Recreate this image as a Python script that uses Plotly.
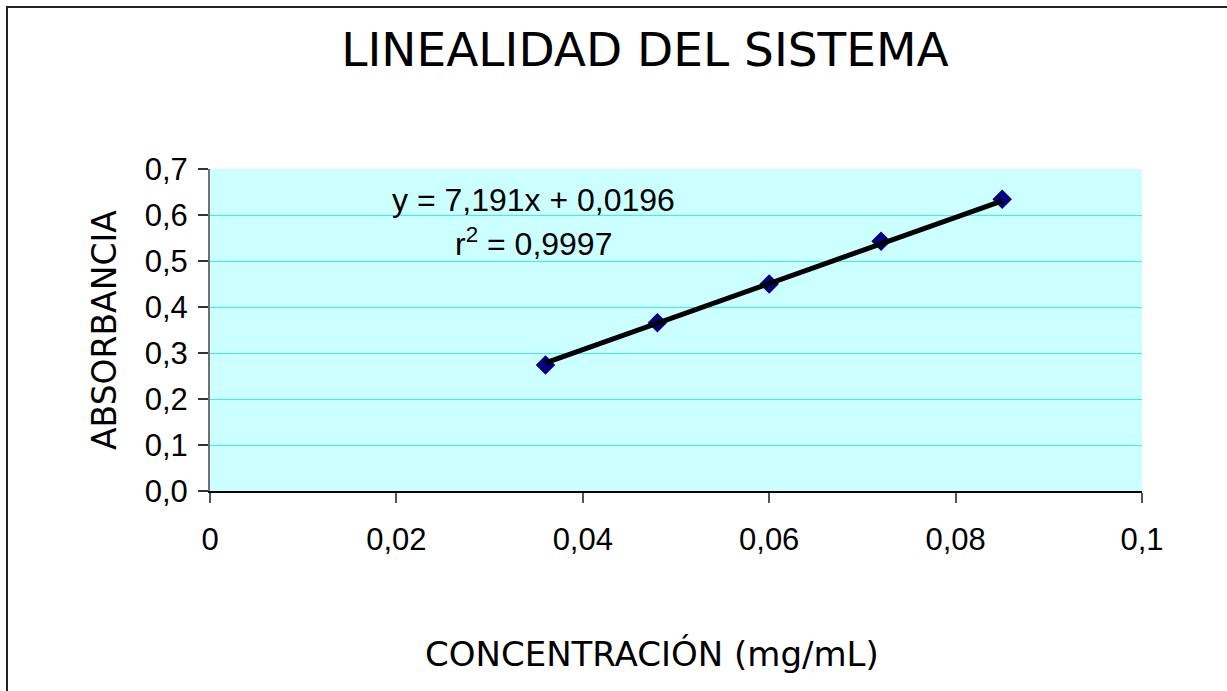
import plotly.graph_objects as go

# Data
concentracion = [0.036, 0.048, 0.060, 0.072, 0.085]
absorbancia = [0.274, 0.366, 0.450, 0.543, 0.634]
slope = 7.191
intercept = 0.0196
r2 = 0.9997
x_ticks = [0, 0.02, 0.04, 0.06, 0.08, 0.1]
y_ticks = [0.0, 0.1, 0.2, 0.3, 0.4, 0.5, 0.6, 0.7]

def fmt(v, d):
    return f"{v:.{d}f}".replace(".", ",")

trend_x = [min(concentracion), max(concentracion)]
trend_y = [slope * x + intercept for x in trend_x]

fig = go.Figure()
fig.add_trace(go.Scatter(
    x=concentracion, y=absorbancia, mode="markers",
    marker=dict(symbol="diamond", size=15, color="#000080",
                line=dict(width=0)),
    showlegend=False, cliponaxis=False))
fig.add_trace(go.Scatter(
    x=trend_x, y=trend_y, mode="lines",
    line=dict(color="black", width=5),
    showlegend=False))

W, H = 1227, 691
L, R, T, B = 210, 1142, 169, 491

def px(xp):
    return (xp - L) / (R - L)

def py(yp):
    return (B - yp) / (B - T)

fig.update_layout(
    width=W, height=H,
    margin=dict(l=L, r=W - R, t=T, b=H - B, pad=0),
    paper_bgcolor="white",
    plot_bgcolor="#CCFFFF",
    separators=", ",
    showlegend=False,
    title=dict(text="LINEALIDAD DEL SISTEMA", x=645 / W, xanchor="center",
               y=1 - 50 / H, yanchor="middle",
               font=dict(family="DejaVu Sans", size=47, color="black")),
    xaxis=dict(range=[0, 0.1], tickvals=x_ticks,
               ticktext=[fmt(v, 2).rstrip("0").rstrip(",") if v != 0 else "0" for v in x_ticks],
               showgrid=False, zeroline=False,
               showline=True, linecolor="black", linewidth=1.5,
               ticks="outside", ticklen=10, tickwidth=1.5, tickcolor="#555555",
               ticklabelstandoff=10,
               tickfont=dict(family="Liberation Sans", size=31, color="black")),
    yaxis=dict(range=[0, 0.7], tickvals=y_ticks,
               ticktext=[fmt(v, 1) for v in y_ticks],
               showgrid=True, gridcolor="#3EEEEE", gridwidth=1,
               zeroline=False,
               showline=True, linecolor="#707070", linewidth=2,
               ticks="outside", ticklen=10, tickwidth=1.5, tickcolor="#333333",
               ticklabelstandoff=4,
               tickfont=dict(family="Liberation Sans", size=31, color="black")),
    annotations=[
        dict(text="ABSORBANCIA", xref="paper", yref="paper",
             x=px(104), y=py(330), xanchor="center", yanchor="middle",
             textangle=-90, showarrow=False,
             font=dict(family="DejaVu Sans", size=33, color="black")),
        dict(text="CONCENTRACIÓN (mg/mL)", xref="paper", yref="paper",
             x=px(652), y=py(654), xanchor="center", yanchor="middle",
             showarrow=False,
             font=dict(family="DejaVu Sans", size=34, color="black")),
        dict(text=f"y = {fmt(slope, 3)}x + {fmt(intercept, 4)}",
             xref="paper", yref="paper", x=px(533), y=py(200),
             xanchor="center", yanchor="middle", showarrow=False,
             font=dict(family="Liberation Sans", size=32, color="black")),
        dict(text=f"r<sup>2</sup> = {fmt(r2, 4)}",
             xref="paper", yref="paper", x=px(533), y=py(242),
             xanchor="center", yanchor="middle", showarrow=False,
             font=dict(family="Liberation Sans", size=32, color="black")),
    ],
    shapes=[
        dict(type="rect", xref="paper", yref="paper",
             x0=px(7), x1=px(1240), y0=py(705), y1=py(7),
             line=dict(color="#222222", width=2), fillcolor="rgba(0,0,0,0)",
             layer="above"),
    ],
)

fig.write_html("out.html", config={"displayModeBar": False},
               post_script="document.body.style.margin='0px';document.body.style.padding='0px';")
